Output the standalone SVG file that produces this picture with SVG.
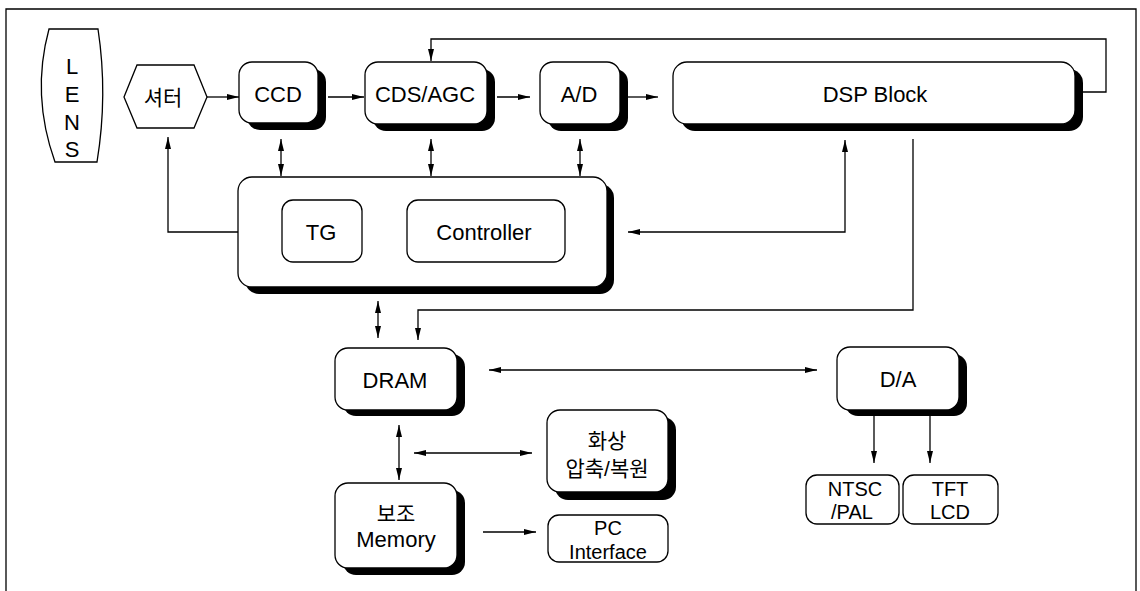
<svg xmlns="http://www.w3.org/2000/svg" width="1140" height="591" viewBox="0 0 1140 591">
<style>
.box{fill:#fff;stroke:#000;stroke-width:1.3}
.sh{fill:#000}
.ln{fill:none;stroke:#000;stroke-width:1.3}
.t{font-family:"Liberation Sans",Arial,sans-serif;font-size:22px;fill:#000;text-anchor:middle}
.k{font-family:"Liberation Sans","Noto Sans CJK KR",sans-serif;font-size:21px;fill:#000;text-anchor:middle}
.s{font-size:20px}
</style>
<defs>
<marker id="ah" viewBox="0 0 12 6" refX="12" refY="3" markerWidth="12" markerHeight="6" markerUnits="userSpaceOnUse" orient="auto-start-reverse">
<path d="M0,0 L12,3 L0,6 Z" fill="#000"/>
</marker>
</defs>
<rect x="0" y="0" width="1140" height="591" fill="#fff"/>
<path class="ln" d="M6,591 L6,9 L1136,9 L1136,591" stroke-width="1.6"/>

<g id="lens">
<path class="box" d="M49,29 L98,29 Q108,95 97,162 L55,162 Q31,95 49,29 Z"/>
<text class="t" x="72" y="74" font-size="28">L</text>
<text class="t" x="72" y="102" font-size="28">E</text>
<text class="t" x="72" y="130" font-size="28">N</text>
<text class="t" x="72" y="157" font-size="28">S</text>
</g>

<g id="shutter">
<polygon class="box" points="124,97 137,65 194,65 207,97 194,128 137,128"/>
<text class="k" x="163" y="105">셔터</text>
</g>

<g id="ccd">
<rect class="sh" x="247" y="69" width="79" height="61" rx="13"/>
<rect class="box" x="239" y="62" width="79" height="61" rx="13"/>
<text class="t" x="278" y="102">CCD</text>
</g>

<g id="cdsagc">
<rect class="sh" x="373" y="69" width="122" height="62" rx="13"/>
<rect class="box" x="365" y="62" width="122" height="62" rx="13"/>
<text class="t" x="425" y="102">CDS/AGC</text>
</g>

<g id="ad">
<rect class="sh" x="548" y="69" width="80" height="62" rx="13"/>
<rect class="box" x="540" y="62" width="80" height="62" rx="13"/>
<text class="t" x="579" y="102">A/D</text>
</g>

<g id="dsp">
<rect class="sh" x="681" y="69" width="402" height="62" rx="14"/>
<rect class="box" x="673" y="62" width="402" height="62" rx="14"/>
<text class="t" x="875" y="102">DSP Block</text>
</g>

<g id="control">
<rect class="sh" x="245" y="184" width="369" height="110" rx="14"/>
<rect class="box" x="238" y="177" width="369" height="110" rx="14"/>
</g>

<g id="tg">
<rect class="box" x="282" y="200" width="80" height="62" rx="11"/>
<text class="t" x="321" y="240">TG</text>
</g>

<g id="controller">
<rect class="box" x="407" y="200" width="158" height="62" rx="11"/>
<text class="t" x="484" y="240">Controller</text>
</g>

<g id="dram">
<rect class="sh" x="343" y="354" width="122" height="62" rx="13"/>
<rect class="box" x="335" y="348" width="122" height="62" rx="13"/>
<text class="t" x="395" y="388">DRAM</text>
</g>

<g id="da">
<rect class="sh" x="845" y="354" width="122" height="62" rx="13"/>
<rect class="box" x="837" y="347" width="122" height="63" rx="13"/>
<text class="t" x="898" y="387">D/A</text>
</g>

<g id="image-codec">
<rect class="sh" x="555" y="417" width="121" height="83" rx="13"/>
<rect class="box" x="547" y="410" width="121" height="82" rx="13"/>
<text class="k" x="607" y="448">화상</text>
<text class="k" x="607" y="476">압축/복원</text>
</g>

<g id="aux-memory">
<rect class="sh" x="343" y="490" width="122" height="85" rx="13"/>
<rect class="box" x="335" y="483" width="122" height="85" rx="13"/>
<text class="k" x="396" y="521">보조</text>
<text class="t" x="396" y="547" font-size="23">Memory</text>
</g>

<g id="pc-interface">
<rect class="box" x="548" y="515" width="120" height="47" rx="11"/>
<text class="t s" x="608" y="535">PC</text>
<text class="t s" x="608" y="559">Interface</text>
</g>

<g id="ntsc">
<rect class="box" x="806" y="475" width="93" height="49" rx="11"/>
<text class="t s" x="855" y="496">NTSC</text>
<text class="t s" x="852" y="519">/PAL</text>
</g>

<g id="tft">
<rect class="box" x="903" y="475" width="95" height="49" rx="11"/>
<text class="t s" x="950" y="496">TFT</text>
<text class="t s" x="950" y="519">LCD</text>
</g>

<g id="connectors" class="ln" marker-end="url(#ah)">
<path d="M207,97 L239,97"/>
<path d="M328,97 L364,97"/>
<path d="M497,97 L530,97"/>
<path d="M628,97 L658,97"/>
<path d="M1083,92 L1106,92 L1106,39 L431,39 L431,61"/>
<path d="M281,139 L281,176" marker-start="url(#ah)"/>
<path d="M431,139 L431,176" marker-start="url(#ah)"/>
<path d="M580,139 L580,176" marker-start="url(#ah)"/>
<path d="M238,232 L168,232 L168,137"/>
<path d="M845,140 L845,232 L628,232" marker-start="url(#ah)"/>
<path d="M913,139 L913,310 L418,310 L418,340"/>
<path d="M378,301 L378,338" marker-start="url(#ah)"/>
<path d="M489,370 L817,370" marker-start="url(#ah)"/>
<path d="M874,416 L874,463"/>
<path d="M930,416 L930,463"/>
<path d="M399,425 L399,480" marker-start="url(#ah)"/>
<path d="M414,453 L532,453" marker-start="url(#ah)"/>
<path d="M483,532 L536,532"/>
</g>
</svg>
